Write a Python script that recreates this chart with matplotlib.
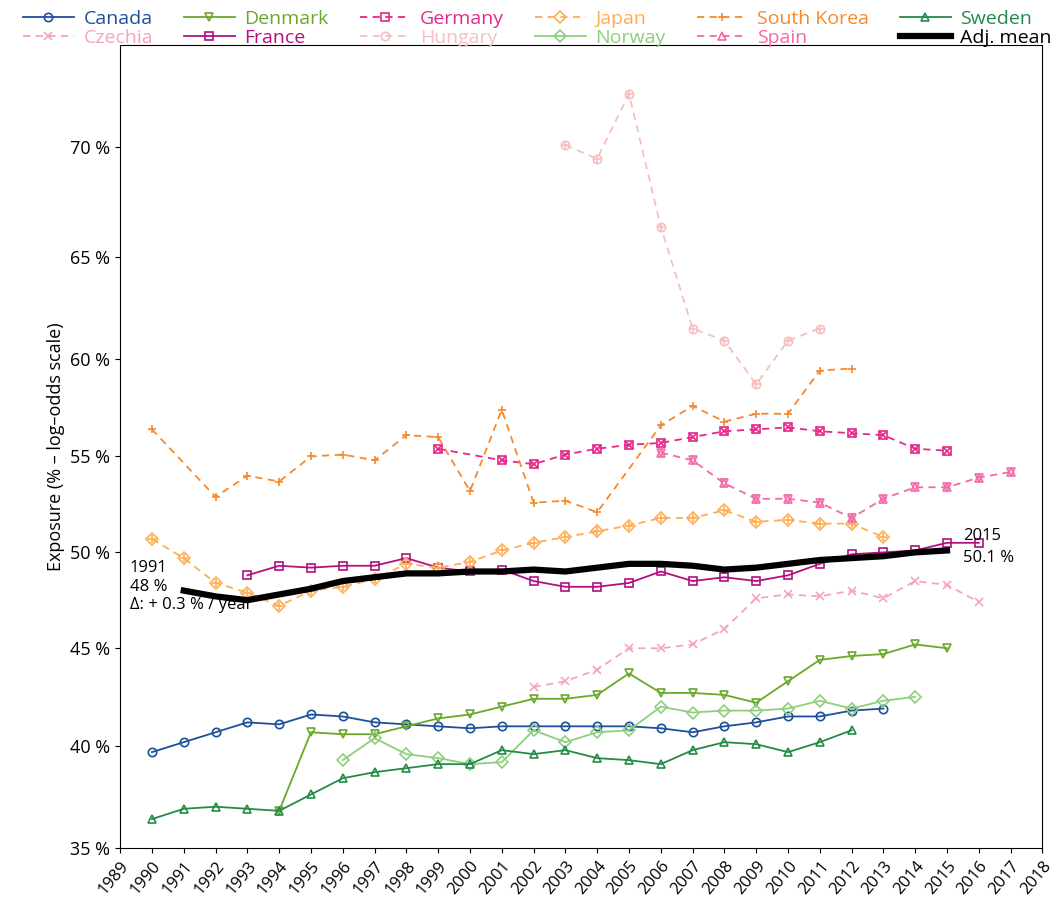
import numpy as np
import matplotlib.pyplot as plt
from matplotlib.lines import Line2D

plt.rcParams['font.family'] = ['Open Sans', 'DejaVu Sans']

canada_yr = list(range(1990, 2014))
canada = [39.7, 40.2, 40.7, 41.2, 41.1, 41.6, 41.5, 41.2, 41.1, 41.0, 40.9, 41.0,
          41.0, 41.0, 41.0, 41.0, 40.9, 40.7, 41.0, 41.2, 41.5, 41.5, 41.8, 41.9]
denmark_yr = list(range(1994, 2016))
denmark = [36.8, 40.7, 40.6, 40.6, 41.0, 41.4, 41.6, 42.0, 42.4, 42.4, 42.6, 43.7,
           42.7, 42.7, 42.6, 42.2, 43.3, 44.4, 44.6, 44.7, 45.2, 45.0]
germany_yr = [1999] + list(range(2001, 2016))
germany = [55.4, 54.8, 54.6, 55.1, 55.4, 55.6, 55.7, 56.0, 56.3, 56.4, 56.5, 56.3,
           56.2, 56.1, 55.4, 55.3]
japan_yr = list(range(1990, 2014))
japan = [50.7, 49.7, 48.4, 47.9, 47.2, 48.0, 48.2, 48.6, 49.4, 49.2, 49.5, 50.1,
         50.5, 50.8, 51.1, 51.4, 51.8, 51.8, 52.2, 51.6, 51.7, 51.5, 51.5, 50.8]
korea_yr = [1990] + list(range(1992, 2005)) + list(range(2006, 2013))
korea = [56.4, 52.9, 54.0, 53.7, 55.0, 55.1, 54.8, 56.1, 56.0, 53.2, 57.4, 52.6,
         52.7, 52.1, 56.6, 57.6, 56.8, 57.2, 57.2, 59.4, 59.5]
sweden_yr = list(range(1990, 2013))
sweden = [36.4, 36.9, 37.0, 36.9, 36.8, 37.6, 38.4, 38.7, 38.9, 39.1, 39.1, 39.8,
          39.6, 39.8, 39.4, 39.3, 39.1, 39.8, 40.2, 40.1, 39.7, 40.2, 40.8]
czechia_yr = list(range(2002, 2017))
czechia = [43.0, 43.3, 43.9, 45.0, 45.0, 45.2, 46.0, 47.6, 47.8, 47.7, 48.0, 47.6,
           48.5, 48.3, 47.4]
france_yr = list(range(1993, 2017))
france = [48.8, 49.3, 49.2, 49.3, 49.3, 49.7, 49.2, 49.0, 49.1, 48.5, 48.2, 48.2,
          48.4, 49.0, 48.5, 48.7, 48.5, 48.8, 49.4, 49.9, 50.0, 50.1, 50.5, 50.5]
hungary_yr = list(range(2003, 2012))
hungary = [70.1, 69.5, 72.3, 66.4, 61.5, 60.9, 58.7, 60.9, 61.5]
norway_yr = list(range(1996, 2015))
norway = [39.3, 40.4, 39.6, 39.4, 39.1, 39.2, 40.8, 40.2, 40.7, 40.8, 42.0, 41.7,
          41.8, 41.8, 41.9, 42.3, 41.9, 42.3, 42.5]
spain_yr = list(range(2006, 2018))
spain = [55.2, 54.8, 53.6, 52.8, 52.8, 52.6, 51.8, 52.8, 53.4, 53.4, 53.9, 54.2]
mean_yr = list(range(1991, 2016))
adj_mean = [48.0, 47.7, 47.5, 47.8, 48.1, 48.5, 48.7, 48.9, 48.9, 49.0, 49.0, 49.1,
            49.0, 49.2, 49.4, 49.4, 49.3, 49.1, 49.2, 49.4, 49.6, 49.7, 49.8, 50.0, 50.1]

# name, years, values, colour, marker, overlay marker, dashed
series = [
    ('Canada', canada_yr, canada, '#1d4f9a', 'o', None, False),
    ('Czechia', czechia_yr, czechia, '#f5a3c0', 'x', None, True),
    ('Denmark', denmark_yr, denmark, '#6aa829', 'v', None, False),
    ('France', france_yr, france, '#b0117f', 's', None, False),
    ('Germany', germany_yr, germany, '#e5288a', 's', 'x', True),
    ('Hungary', hungary_yr, hungary, '#f6bfc0', 'o', '+', True),
    ('Japan', japan_yr, japan, '#fdae55', 'D', '+', True),
    ('Norway', norway_yr, norway, '#8dcf7f', 'D', None, False),
    ('South Korea', korea_yr, korea, '#f7892a', '+', None, True),
    ('Spain', spain_yr, spain, '#f26aa8', '^', 'v', True),
    ('Sweden', sweden_yr, sweden, '#248b47', '^', None, False),
]

def logit(p):
    p = np.clip(p, 1e-6, 1 - 1e-6)
    return np.log(p / (1 - p))

def expit(x):
    return 1 / (1 + np.exp(-x))

fig = plt.figure(figsize=(10.54, 9.18), dpi=100)
ax = fig.add_axes([0.114, 0.076, 0.875, 0.875])
ax.set_yscale('function', functions=(logit, expit))

handles = []
for name, yr, vals, col, mk, mk2, dashed in series:
    v = np.array(vals) / 100
    ls = (0, (4, 3)) if dashed else '-'
    ax.plot(yr, v, color=col, ls=ls, lw=1.3, marker=mk, ms=6, mfc='none', mew=1.2)
    if mk2:
        ax.plot(yr, v, ls='none', color=col, marker=mk2, ms=6, mfc='none', mew=1.2)
    handles.append(Line2D([], [], color=col, ls=ls, lw=1.3, marker=mk, ms=6,
                          mfc='none', mew=1.2, label=name))

ax.plot(mean_yr, np.array(adj_mean) / 100, color='black', lw=4.5)
handles.append(Line2D([], [], color='black', lw=4.5, label='Adj. mean'))

ax.set_xlim(1989, 2018)
ax.set_ylim(0.35, 0.743)
ax.set_xticks(range(1989, 2019))
ax.set_xticklabels([str(y) for y in range(1989, 2019)], rotation=50, fontsize=12,
                   ha='right', rotation_mode='anchor')
yt = [0.35, 0.40, 0.45, 0.50, 0.55, 0.60, 0.65, 0.70]
ax.set_yticks(yt)
ax.set_yticklabels([f'{int(round(t*100))} %' for t in yt], fontsize=13)
ax.yaxis.set_minor_locator(plt.NullLocator())
ax.set_ylabel('Exposure (% – log–odds scale)', fontsize=13)

ax.text(1989.3, 0.482, '1991\n48 %\nΔ: + 0.3 % / year', fontsize=12, va='center',
        ha='left', linespacing=1.2)
ax.text(2015.5, 0.503, '2015\n50.1 %', fontsize=12, va='center', ha='left',
        linespacing=1.5)

fig.legend(handles=handles, ncol=6, loc='upper center', bbox_to_anchor=(0.51, 1.008),
           frameon=False, fontsize=14, handlelength=2.6, columnspacing=1.6,
           labelspacing=0.05, handletextpad=0.5, labelcolor='linecolor')

fig.savefig('out.png', dpi=100)
